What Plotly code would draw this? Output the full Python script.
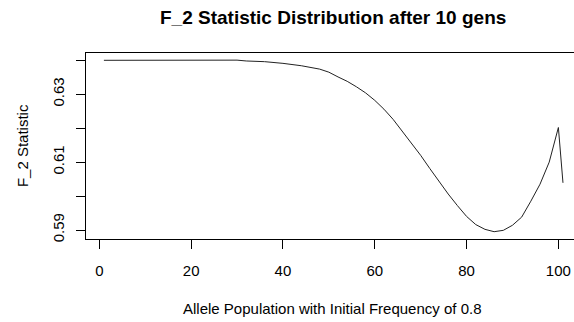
import plotly.graph_objects as go

# Data
allele_pop = [1, 10, 20, 30, 32, 36, 40, 44, 48, 50, 52, 54, 56, 58, 60, 62, 64, 66, 68, 70,
              72, 74, 76, 78, 80, 82, 84, 86, 88, 90, 92, 94, 96, 98, 99, 100, 101]
f2_stat = [0.6400, 0.6400, 0.6400, 0.64005, 0.6398, 0.6396, 0.6391, 0.6384, 0.6374, 0.6365,
           0.6351, 0.6338, 0.6322, 0.6304, 0.6282, 0.6256, 0.6226, 0.6190, 0.6157, 0.6120,
           0.6081, 0.6043, 0.6006, 0.5972, 0.5940, 0.5916, 0.5902, 0.5895, 0.5899, 0.5914,
           0.5938, 0.5985, 0.6035, 0.6100, 0.6150, 0.6202, 0.6039]

x_ticks = [0, 20, 40, 60, 80, 100]
y_ticks = [0.59, 0.60, 0.61, 0.62, 0.63, 0.64]
y_tick_text = ["0.59", "", "0.61", "", "0.63", ""]

title_text = "F_2 Statistic Distribution after 10 gens"
x_title = "Allele Population with Initial Frequency of 0.8"
y_title = "F_2 Statistic"

FONT = "Liberation Sans, Arial, sans-serif"

fig = go.Figure()
fig.add_trace(go.Scatter(x=allele_pop, y=f2_stat, mode="lines",
                         line=dict(color="#222222", width=1), hoverinfo="skip"))

fig.update_layout(
    width=574, height=322,
    margin=dict(l=86, r=0, t=53, b=83),
    paper_bgcolor="white", plot_bgcolor="white",
    showlegend=False,
    font=dict(family=FONT, size=15, color="#000000"),
    xaxis=dict(range=[-2.9, 103.4], tickvals=x_ticks, ticktext=[str(v) for v in x_ticks],
               showgrid=False, zeroline=False, showline=True, mirror=True,
               linecolor="#000000", linewidth=1, ticks="outside", ticklen=9,
               tickcolor="#000000", tickwidth=1, ticklabelstandoff=9,
               tickfont=dict(family=FONT, size=15, color="#000000")),
    yaxis=dict(range=[0.58735, 0.64215], tickvals=y_ticks, ticktext=y_tick_text,
               showgrid=False, zeroline=False, showline=True, mirror=False,
               linecolor="#000000", linewidth=1, ticks="outside", ticklen=9,
               tickcolor="#000000", tickwidth=1, tickangle=-90, ticklabelstandoff=6,
               tickfont=dict(family=FONT, size=15, color="#000000")),
    annotations=[
        dict(text="<b>" + title_text + "</b>", xref="paper", yref="paper",
             x=0.506, y=1.1935, xanchor="center", yanchor="middle", showarrow=False,
             font=dict(family=FONT, size=19, color="#000000")),
        dict(text=x_title, xref="paper", yref="paper",
             x=0.506, y=-0.371, xanchor="center", yanchor="middle", showarrow=False,
             font=dict(family=FONT, size=15, color="#000000")),
        dict(text=y_title, xref="paper", yref="paper",
             x=-0.131, y=0.5, xanchor="center", yanchor="middle", showarrow=False,
             textangle=-90, font=dict(family=FONT, size=15, color="#000000")),
    ],
)

fig.write_html("out.html", config={"displayModeBar": False},
               post_script="document.body.style.margin='0px';document.body.style.overflow='hidden';")
